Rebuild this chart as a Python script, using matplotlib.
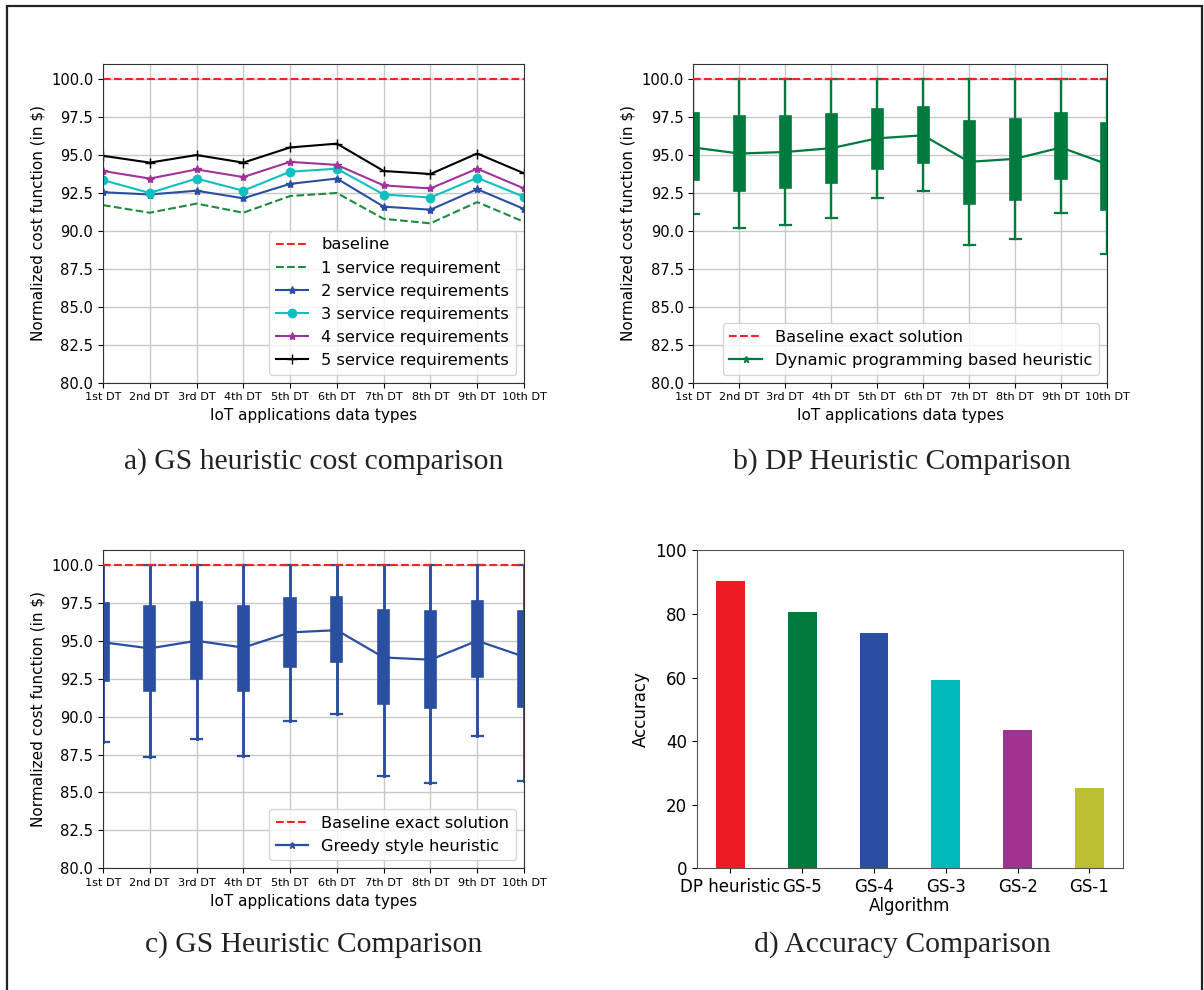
import matplotlib
matplotlib.use("Agg")
import matplotlib.pyplot as plt
from matplotlib.patches import Rectangle
import numpy as np

dt_labels = ["1st DT", "2nd DT", "3rd DT", "4th DT", "5th DT",
             "6th DT", "7th DT", "8th DT", "9th DT", "10th DT"]

# normalized cost per data type, greedy heuristic with k service requirements
gs_1 = [91.7, 91.2, 91.8, 91.2, 92.3, 92.5, 90.8, 90.5, 91.9, 90.6]
gs_2 = [92.55, 92.4, 92.65, 92.15, 93.1, 93.45, 91.6, 91.4, 92.75, 91.45]
gs_3 = [93.35, 92.5, 93.45, 92.65, 93.9, 94.1, 92.4, 92.2, 93.5, 92.25]
gs_4 = [93.95, 93.45, 94.05, 93.55, 94.55, 94.35, 93.0, 92.8, 94.1, 92.8]
gs_5 = [94.95, 94.5, 95.0, 94.5, 95.5, 95.75, 93.95, 93.75, 95.1, 93.8]

# DP heuristic spread
dp_mean = [95.5, 95.1, 95.2, 95.45, 96.1, 96.3, 94.55, 94.75, 95.5, 94.4]
dp_q1 = [93.35, 92.65, 92.8, 93.15, 94.1, 94.5, 91.8, 92.05, 93.45, 91.4]
dp_q3 = [97.75, 97.55, 97.6, 97.7, 98.0, 98.15, 97.25, 97.35, 97.8, 97.1]
dp_low = [91.1, 90.2, 90.4, 90.85, 92.15, 92.65, 89.05, 89.45, 91.2, 88.5]

# greedy heuristic spread
gs_mean = [94.9, 94.5, 95.0, 94.55, 95.55, 95.7, 93.9, 93.75, 95.0, 93.95]
gs_q1 = [92.35, 91.7, 92.45, 91.7, 93.25, 93.6, 90.85, 90.55, 92.6, 90.65]
gs_q3 = [97.5, 97.3, 97.55, 97.3, 97.8, 97.9, 97.0, 96.95, 97.6, 96.95]
gs_low = [88.3, 87.35, 88.5, 87.4, 89.7, 90.2, 86.1, 85.65, 88.7, 85.75]

upper = 100.0

algorithms = ["DP heuristic", "GS-5", "GS-4", "GS-3", "GS-2", "GS-1"]
accuracy = [90.4, 80.5, 74.0, 59.1, 43.6, 25.2]
bar_colors = ["#ED1C24", "#007A3D", "#2B4FA0", "#00BABA", "#A0338F", "#BDBF33"]

GREEN = "#007A3D"
BLUE = "#2B4FA0"

fig = plt.figure(figsize=(12.04, 9.9), dpi=100)
fig.patches.append(Rectangle((7 / 1204, -0.05), 1195 / 1204, 1.05 - 6 / 990,
                             transform=fig.transFigure, fill=False,
                             edgecolor="#222222", linewidth=1.6))

x = np.arange(len(dt_labels))


def setup_cost_axes(ax):
    ax.set_xlim(0, 9)
    ax.set_ylim(80, 101)
    ax.set_yticks(np.arange(80, 100.1, 2.5))
    ax.set_yticklabels(["%.1f" % v for v in np.arange(80, 100.1, 2.5)], fontsize=10.6)
    ax.set_xticks(x)
    ax.set_xticklabels(dt_labels, fontsize=8.1)
    ax.grid(True, color="#c8c8c8", linewidth=1.0)
    ax.set_axisbelow(True)
    ax.set_xlabel("IoT applications data types", fontsize=11)
    ax.set_ylabel("Normalized cost function (in $)", fontsize=11)
    for s in ax.spines.values():
        s.set_color("#333333")


def spread_stats(mean, q1, q3, low):
    return [dict(med=m, q1=a, q3=b, whislo=lo, whishi=upper, fliers=[])
            for m, a, b, lo in zip(mean, q1, q3, low)]


def draw_spread(ax, stats, color, whisker_lw):
    ax.bxp(stats, positions=x, widths=0.24, capwidths=0.24,
           patch_artist=True, showfliers=False, manage_ticks=False,
           boxprops=dict(facecolor=color, edgecolor=color, linewidth=1.2),
           whiskerprops=dict(color=color, linewidth=whisker_lw),
           capprops=dict(color=color, linewidth=1.6),
           medianprops=dict(color=color, linewidth=1.2))


# a) greedy heuristic per service requirement count
ax1 = fig.add_axes([0.0855, 0.6134, 0.3497, 0.3220])
ax1.plot(x, [upper] * len(x), "--", color="#FF2020", lw=1.5, label="baseline")
ax1.plot(x, gs_1, "--", color="#1E8A3C", lw=1.5, label="1 service requirement")
ax1.plot(x, gs_2, "-*", color=BLUE, lw=1.5, ms=6, label="2 service requirements")
ax1.plot(x, gs_3, "-o", color="#10BFBF", lw=1.5, ms=6, label="3 service requirements")
ax1.plot(x, gs_4, "-*", color="#A0339A", lw=1.5, ms=6, label="4 service requirements")
ax1.plot(x, gs_5, "-+", color="black", lw=1.5, ms=7, label="5 service requirements")
setup_cost_axes(ax1)
ax1.legend(loc="lower right", fontsize=11.7, handlelength=2.0)

# b) DP heuristic
ax2 = fig.add_axes([0.5758, 0.6134, 0.3436, 0.3220])
draw_spread(ax2, spread_stats(dp_mean, dp_q1, dp_q3, dp_low), GREEN, 1.7)
ax2.plot(x, dp_mean, "-*", color=GREEN, lw=1.6, ms=5,
         label="Dynamic programming based heuristic")
ax2.plot(x, [upper] * len(x), "--", color="#FF2020", lw=1.5, zorder=5,
         label="Baseline exact solution")
setup_cost_axes(ax2)
h, l = ax2.get_legend_handles_labels()
ax2.legend(h[::-1], l[::-1], loc="lower right", fontsize=11.7)

# c) greedy heuristic
ax3 = fig.add_axes([0.0855, 0.1229, 0.3497, 0.3218])
draw_spread(ax3, spread_stats(gs_mean, gs_q1, gs_q3, gs_low), BLUE, 2.1)
ax3.plot(x, gs_mean, "-*", color=BLUE, lw=1.6, ms=5, label="Greedy style heuristic")
ax3.plot(x, [upper] * len(x), "--", color="#FF2020", lw=1.5, zorder=5,
         label="Baseline exact solution")
setup_cost_axes(ax3)
h, l = ax3.get_legend_handles_labels()
ax3.legend(h[::-1], l[::-1], loc="lower right", fontsize=11.7)

# d) accuracy
ax4 = fig.add_axes([0.5787, 0.1229, 0.3541, 0.3212])
ax4.bar(np.arange(len(algorithms)), accuracy, width=0.4, color=bar_colors)
ax4.set_xticks(np.arange(len(algorithms)))
ax4.set_xticklabels(algorithms, fontsize=12)
ax4.set_ylim(0, 100)
ax4.set_yticks(np.arange(0, 101, 20))
ax4.tick_params(axis="y", labelsize=12)
ax4.set_xlabel("Algorithm", fontsize=12, labelpad=1)
ax4.set_ylabel("Accuracy", fontsize=12)
for s in ax4.spines.values():
    s.set_color("#555555")

cap_font = dict(family="Liberation Serif", fontsize=21.3, color="#222222",
                ha="center", va="center")
fig.text(314 / 1204, 1 - 462 / 990, "a) GS heuristic cost comparison", **cap_font)
fig.text(902 / 1204, 1 - 462 / 990, "b) DP Heuristic Comparison", **cap_font)
fig.text(314 / 1204, 1 - 945 / 990, "c) GS Heuristic Comparison", **cap_font)
fig.text(902 / 1204, 1 - 945 / 990, "d) Accuracy Comparison", **cap_font)

fig.savefig("out.png", dpi=100)
